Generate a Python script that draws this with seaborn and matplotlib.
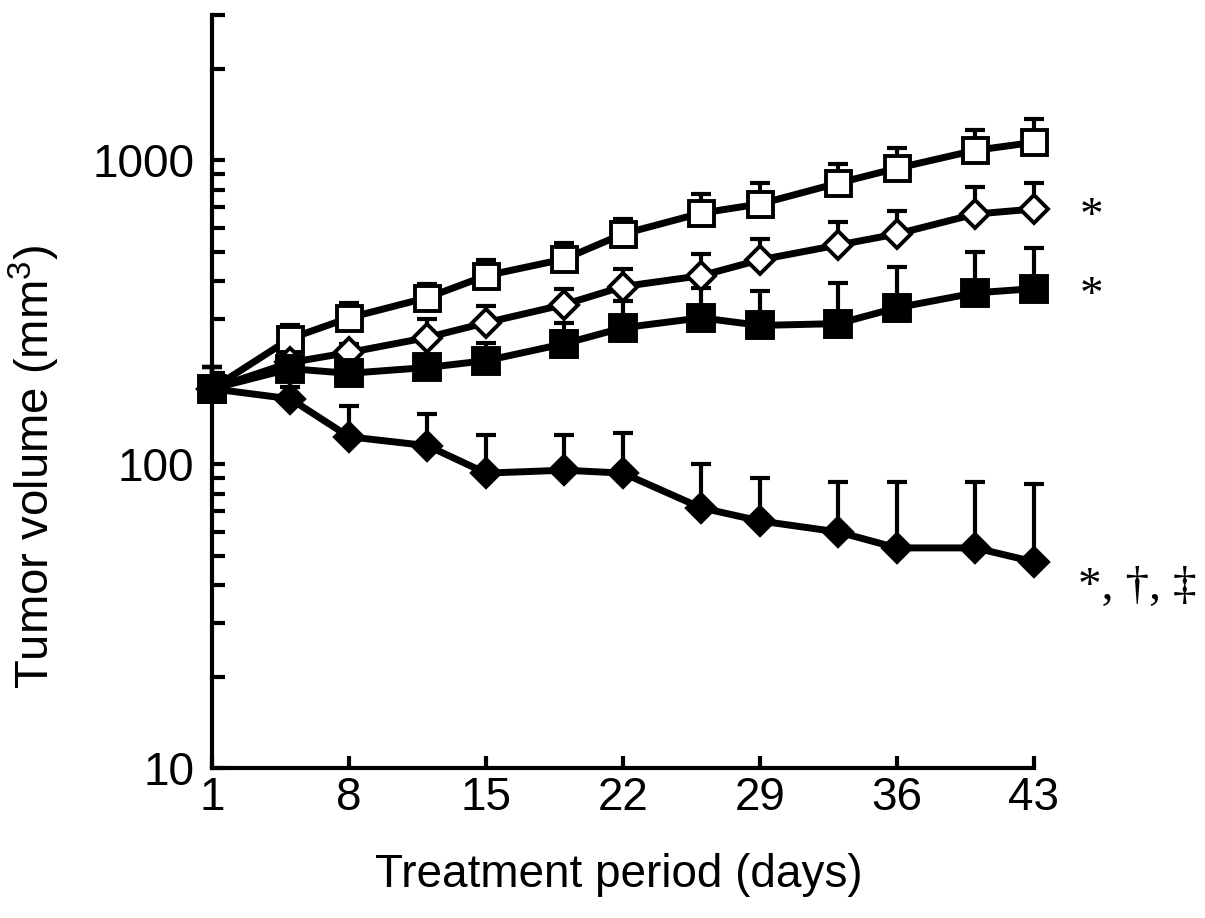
import matplotlib
matplotlib.use("Agg")
import matplotlib.pyplot as plt
import matplotlib.ticker as mticker
import pandas as pd
import seaborn as sns

# Treatment days
days = [1, 5, 8, 12, 15, 19, 22, 26, 29, 33, 36, 40, 43]

# Mean tumor volume (mm3) and upper error bar ends for each group
ctrl_mean = [177, 259, 303, 353, 417, 473, 572, 670, 718, 841, 941, 1078, 1145]
ctrl_top = [208, 286, 340, 392, 470, 535, 641, 774, 841, 970, 1095, 1254, 1363]

open_dia_mean = [177, 216, 233, 261, 292, 335, 384, 417, 470, 526, 572, 665, 691]
open_dia_top = [208, 230, 249, 301, 332, 378, 440, 492, 551, 626, 680, 816, 841]

fill_sq_mean = [177, 206, 199, 208, 219, 249, 281, 303, 286, 290, 327, 366, 378]
fill_sq_top = [208, 225, 228, 228, 251, 292, 345, 380, 372, 395, 446, 499, 515]

fill_dia_mean = [177, 164, 123, 115, 93.4, 95.5, 93.4, 71.8, 65.0, 59.8, 53, 53, 47.7]
fill_dia_top = [208, 180, 155, 146, 125, 125, 127, 100, 90, 87.3, 87.3, 87.3, 86]

# significance marks next to the last points
sig_labels = ["*", "*", "*, \u2020, \u2021"]

sns.set_style("ticks")
plt.rcParams["font.family"] = ["Liberation Sans", "DejaVu Sans"]
plt.rcParams["mathtext.default"] = "regular"
plt.rcParams["text.color"] = "black"
plt.rcParams["axes.labelcolor"] = "black"

fig = plt.figure(figsize=(12.05, 9.18), dpi=100)
ax = fig.add_axes([0.176, 0.1634, 0.682, 0.820])

groups = [
    ("control", ctrl_mean, ctrl_top, "s", 18, "white"),
    ("open diamond", open_dia_mean, open_dia_top, "D", 14.5, "white"),
    ("filled square", fill_sq_mean, fill_sq_top, "s", 18.5, "black"),
    ("filled diamond", fill_dia_mean, fill_dia_top, "D", 14.5, "black"),
]

for name, mean, top, mk, ms, face in groups:
    df = pd.DataFrame({"day": days, "volume": mean})
    err = [m_top - m for m, m_top in zip(mean, top)]
    eb = ax.errorbar(days, mean, yerr=[[0] * len(mean), err], fmt="none",
                     ecolor="black", elinewidth=3, capsize=7, capthick=3,
                     zorder=2, clip_on=False)
    # only the upper cap is shown
    eb[1][0].set_visible(False)
    sns.lineplot(data=df, x="day", y="volume", ax=ax, color="black",
                 linewidth=5, marker=mk, markersize=ms,
                 markerfacecolor=face, markeredgecolor="black",
                 markeredgewidth=2.8, zorder=3, clip_on=False, label=name)

ax.get_legend().remove()

ax.set_yscale("log")
ax.set_ylim(10, 3000)
ax.set_xlim(1, 43)
ax.set_xticks([1, 8, 15, 22, 29, 36, 43])
ax.yaxis.set_major_locator(mticker.FixedLocator([10, 100, 1000]))
ax.yaxis.set_major_formatter(mticker.FixedFormatter(["10", "100", "1000"]))
ax.yaxis.set_minor_locator(mticker.LogLocator(base=10, subs=range(2, 10)))
ax.yaxis.set_minor_formatter(mticker.NullFormatter())

ax.tick_params(axis="both", which="both", direction="in", width=3,
               length=9, labelsize=33, colors="black")
ax.tick_params(axis="y", pad=13)
ax.tick_params(axis="x", pad=6)

for side in ["top", "right"]:
    ax.spines[side].set_visible(False)
for side in ["left", "bottom"]:
    ax.spines[side].set_linewidth(3)
    ax.spines[side].set_color("black")

ax.set_xlabel("Treatment period (days)", fontsize=33)
ax.set_ylabel("Tumor volume (mm$^3$)", fontsize=34)
ax.xaxis.set_label_coords(0.495, -0.113)
ax.yaxis.set_label_coords(-0.183, 0.40)

# significance labels
last_vals = [open_dia_mean[-1], fill_sq_mean[-1], fill_dia_mean[-1]]
offsets = [(33, -6), (33, -6), (32, -19)]
for lab, v, off in zip(sig_labels, last_vals, offsets):
    ax.annotate(lab, xy=(days[-1], v), xytext=off, textcoords="offset points",
                ha="left", va="center", fontsize=34,
                family=["Liberation Serif", "DejaVu Serif"],
                annotation_clip=False)

plt.savefig("out.png", dpi=100)
